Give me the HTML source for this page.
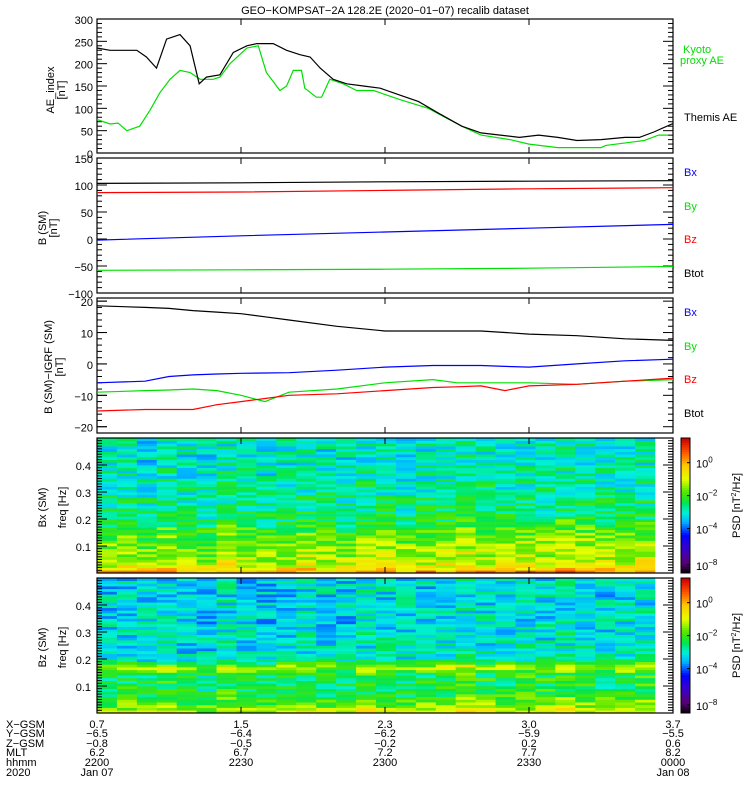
<!DOCTYPE html>
<html><head><meta charset="utf-8">
<style>
body{margin:0;background:#fff;}
svg{display:block;font-family:"Liberation Sans",sans-serif;}
text{font-size:11px;}
</style></head>
<body>
<svg id="c" width="750" height="800" viewBox="0 0 750 800"></svg>
<script>
// ---- data ----
const aeThemisT=[0,2.7,8.3,10.3,12.4,14.5,17.3,19.4,21.3,22.8,25.6,28.4,31.2,33.3,36.7,39.5,42.3,44.4,46.5,49.2,52,55.5,59,63,67,71,76,80,84,88,92,96,100,105,110,113,116,120];
const aeThemisV=[235,230,230,215,190,255,265,240,155,170,175,225,240,245,245,230,220,215,190,165,155,150,145,130,115,90,60,45,40,35,40,35,28,30,35,35,47,66];
const aeKyotoT=[0,2.7,4.4,6.2,8.9,11,13.1,15.2,17.3,19.4,21.5,24.2,25.6,27.7,31.2,33.6,35.3,36.7,38.1,39.5,40.9,42.6,43.3,45.7,46.8,48.5,51.3,54.1,57.6,63,69,76,80,86,90,96,105,106,114,117,119];
const aeKyotoV=[75,65,67,50,60,95,135,165,185,180,165,165,170,200,235,240,180,160,140,150,185,185,145,125,125,165,155,140,140,120,100,60,40,30,20,12,12,17,28,40,40];
const bT=[0,30,60,90,120];
const bxV=[-2,6,13,20,27];
const byV=[-58,-57,-56,-54,-51];
const bzV=[86,87,90,93,95];
const btV=[103,104,106,107,108];
const dT=[0,10,15,20,25,30,35,40,50,60,70,75,80,85,90,100,110,120];
const dBx=[-6,-5.5,-4,-3.5,-3.2,-3,-2.9,-2.8,-2,-1,-0.5,-0.5,-0.5,-0.8,-1,0,1,1.5];
const dBy=[-9,-8.5,-8.3,-8,-8.5,-10,-12,-9,-8,-6,-5,-6,-6,-6,-6,-6.5,-5.5,-5];
const dBz=[-15,-14.5,-14.5,-14.5,-13,-12,-11,-10,-9.5,-8.5,-7.5,-7.3,-7,-8.5,-7,-6.5,-5.5,-4.5];
const dBt=[18.5,18,17.7,17,16.5,16,15,14,12,10.5,10.5,10.5,10.5,10,9.5,9,8,7.5];
const bxProfile=[0.4,-0.2,-0.6,-0.8,-0.9,-1.0,-1.1,-1.1,-1.2,-1.2,-1.3,-1.3,-1.4,-1.5,-1.6,-1.7,-1.8,-1.9,-2.0,-2.1,-2.2,-2.2,-2.3,-2.3,-2.3,-2.4,-2.4,-2.4,-2.4,-2.5,-2.5,-2.5,-2.5,-2.5,-2.6,-2.6,-2.6,-2.6,-2.6,-2.6,-2.7,-2.7,-2.7,-2.7,-2.7,-2.7,-2.7,-2.7,-2.7,-2.7];
const bzProfile=[-0.9,-1.1,-1.4,-1.5,-1.6,-1.7,-2.0,-2.1,-2.1,-2.1,-2.1,-2.1,-2.1,-2.1,-2.0,-1.6,-1.1,-1.2,-2.0,-2.6,-2.7,-2.7,-2.8,-2.8,-2.8,-2.8,-2.8,-2.8,-2.8,-2.8,-2.9,-2.9,-2.9,-2.9,-2.9,-2.9,-2.9,-2.9,-2.9,-2.9,-2.9,-2.9,-2.9,-2.9,-2.9,-2.9,-2.9,-2.9,-2.9,-2.9];
const colOffset=[0,0.1,-0.1,0.2,0,-0.2,0.3,0.1,-0.1,0,0.2,0.1,-0.1,0.3,0.2,0,0.1,0.3,0.4,0.2,0.1,0.3,0.2,0.4,0.3,0.1,0.2,0.3];
const xTickLabels={X:["0.7","1.5","2.3","3.0","3.7"],Y:["-6.5","-6.4","-6.2","-5.9","-5.5"],Z:["-0.8","-0.5","-0.2","0.2","0.6"],MLT:["6.2","6.7","7.2","7.7","8.2"],hh:["2200","2230","2300","2330","0000"]};

// ---- helpers ----
const NS="http://www.w3.org/2000/svg";
const svg=document.getElementById('c');
function el(tag,attrs,parent){const e=document.createElementNS(NS,tag);for(const k in attrs)e.setAttribute(k,attrs[k]);(parent||svg).appendChild(e);return e;}
const X0=97,X1=673,TMAX=120;
const xs=t=>X0+(t/TMAX)*(X1-X0);
function ys(top,bot,vmin,vmax){return v=>bot-(v-vmin)/(vmax-vmin)*(bot-top);}
function line(ts,vs,y,color,name){
  const p=el('polyline',{points:ts.map((t,i)=>xs(t).toFixed(1)+','+y(vs[i]).toFixed(1)).join(' '),fill:'none',stroke:color,'stroke-width':1.2});
  
  
}
function txt(x,y,s,opts,parent){const t=el('text',Object.assign({x:x,y:y},opts||{}),parent);t.textContent=s;return t;}
function frame(top,bot,name){
  const r=el('rect',{x:X0,y:top,width:X1-X0,height:bot-top,fill:'none',stroke:'#000','stroke-width':1.2});
  
  
  [1,2,3].forEach(i=>{const x=xs(i*30);el('line',{x1:x,y1:top,x2:x,y2:top+6,stroke:'#000'});el('line',{x1:x,y1:bot,x2:x,y2:bot-6,stroke:'#000'});});
}
function yAxis(top,bot,vmin,vmax,major,minor,fmt){
  const y=ys(top,bot,vmin,vmax);
  for(let v=vmin;v<=vmax+1e-9;v+=minor){const yy=y(v);const isM=Math.abs(v/major-Math.round(v/major))<1e-6;const L=isM?10:5;
    el('line',{x1:X0,y1:yy,x2:X0+L,y2:yy,stroke:'#000'});el('line',{x1:X1,y1:yy,x2:X1-L,y2:yy,stroke:'#000'});
    if(isM&&fmt){const t=txt(X0-4,yy+5,fmt(v),{'text-anchor':'end','font-size':'13'});}}
  return y;
}
function rotLabel(x,y,lines,name){const g=el('g',{transform:`translate(${x},${y}) rotate(-90)`});
  lines.forEach((s,i)=>{txt(0,i*11,s,{'text-anchor':'middle','font-size':'12'},g);});}
const fmtI=v=>String(Math.round(v)).replace('-','\u2212');

// title
const ti=txt(385,14,'GEO\u2212KOMPSAT\u22122A 128.2E (2020\u221201\u221207) recalib dataset',{'text-anchor':'middle','font-size':'13'});


// panel 1
const p1=[19,153];
const y1=yAxis(p1[0],p1[1],0,300,50,10,fmtI);
frame(p1[0],p1[1],'ae-panel');
line(aeKyotoT,aeKyotoV,y1,'#00e000','kyoto-ae-line');
line(aeThemisT,aeThemisV,y1,'#000','themis-ae-line');
rotLabel(54,90,['AE_index','[nT]'],'ae-y-axis-title');
let t;
t=txt(683,53,'Kyoto',{fill:'#00e000','font-size':'11'});
txt(680,64,'proxy AE',{fill:'#00e000','font-size':'11'});
t=txt(684,121,'Themis AE',{'font-size':'11'});

// panel 2
const p2=[158,293];
const y2=yAxis(p2[0],p2[1],-100,150,50,10,fmtI);
frame(p2[0],p2[1],'b-sm-panel');
line(bT,btV,y2,'#000','btot-line');
line(bT,bzV,y2,'#ff0000','bz-line');
line(bT,bxV,y2,'#0000ff','bx-line');
line(bT,byV,y2,'#00e000','by-line');
rotLabel(46,228,['B (SM)','[nT]'],'b-sm-y-axis-title');
[['Bx','#0000ff',176],['By','#00e000',210],['Bz','#ff0000',243],['Btot','#000',277]].forEach(a=>{const e=txt(684,a[2],a[0],{fill:a[1]});});

// panel 3
const p3=[298,433];
const y3=yAxis(p3[0],p3[1],-22,21,10,2,null);
[-20,-10,0,10,20].forEach(v=>{const e=txt(X0-4,y3(v)+5,fmtI(v),{'text-anchor':'end','font-size':'13'});el('line',{x1:X0,y1:y3(v),x2:X0+10,y2:y3(v),stroke:'#000'});});
frame(p3[0],p3[1],'b-igrf-panel');
line(dT,dBt,y3,'#000','dbtot-line');
line(dT,dBx,y3,'#0000ff','dbx-line');
line(dT,dBy,y3,'#00e000','dby-line');
line(dT,dBz,y3,'#ff0000','dbz-line');
rotLabel(52,367,['B (SM)\u2212IGRF (SM)','[nT]'],'b-igrf-y-axis-title');
[['Bx','#0000ff',316],['By','#00e000',350],['Bz','#ff0000',383],['Btot','#000',417]].forEach(a=>{const e=txt(684,a[2],a[0],{fill:a[1]});});

// colormap
const stops=[[0,[0,0,0]],[0.08,[90,0,120]],[0.2,[50,0,210]],[0.28,[0,0,255]],[0.38,[0,180,255]],[0.45,[0,240,220]],[0.52,[0,230,80]],[0.6,[80,230,0]],[0.7,[230,255,0]],[0.8,[255,200,0]],[0.9,[255,80,0]],[1,[200,0,0]]];
function cmap(f){f=Math.max(0,Math.min(1,f));for(let i=1;i<stops.length;i++){if(f<=stops[i][0]){const a=stops[i-1],b=stops[i];const u=(f-a[0])/(b[0]-a[0]);return 'rgb('+a[1].map((c,k)=>Math.round(c+(b[1][k]-c)*u)).join(',')+')';}}return 'rgb(200,0,0)';}
const LMIN=-6.7,LMAX=1.5;
function hashTex(r,c,s){let h=(r*374761393+c*668265263+s*2147483647)>>>0;h=((h^(h>>>13))*1274126177)>>>0;h=h^(h>>>16);return ((h%1000)/1000-0.5);}

function spectro(top,bot,profile,seed,name,label){
  const g=el('g',{});
  const nC=colOffset.length,nR=profile.length,cw=(655-X0)/nC,rh=(bot-top)/nR;
  for(let c=0;c<nC;c++)for(let r=0;r<nR;r++){
    const v=profile[r]+colOffset[c]*(r<20?1:0.5)+hashTex(r,c,seed)*0.7;
    const cell=el('rect',{x:(X0+c*cw).toFixed(2),y:(bot-(r+1)*rh).toFixed(2),width:(cw+0.3).toFixed(2),height:(rh+0.3).toFixed(2),fill:cmap((v-LMIN)/(LMAX-LMIN))},g);
    
    
  }
  const yf=ys(top,bot,0,0.5);
  for(let i=0;i<=50;i++){const v=i/100,yy=yf(v),isM=i%10==0;el('line',{x1:X0,y1:yy,x2:X0+(isM?10:5),y2:yy,stroke:'#000'});el('line',{x1:X1,y1:yy,x2:X1-(isM?10:5),y2:yy,stroke:'#000'});}
  [0.1,0.2,0.3,0.4].forEach(v=>{const e=txt(X0-6,yf(v)+5,String(v),{'text-anchor':'end','font-size':'12'});});
  frame(top,bot,name+'-frame');
  rotLabel(46,(top+bot)/2+2,[label],name+'-title');
  const f=el('g',{transform:`translate(66,${(top+bot)/2+2}) rotate(-90)`});
  
  
  txt(0,0,'freq [Hz]',{'text-anchor':'middle','font-size':'12'},f);
  // colorbar
  const cb=el('g',{});
  const cbx=681,cbw=9,n=60;
  for(let i=0;i<n;i++){el('rect',{x:cbx,y:bot-(i+1)*(bot-top)/n,width:cbw,height:(bot-top)/n+0.5,fill:cmap((i+0.5)/n)},cb);}
  el('rect',{x:cbx,y:top,width:cbw,height:bot-top,fill:'none',stroke:'#000'},cb);
  const yl=ys(top,bot,LMIN,LMAX);
  [[0,'0'],[-2,'\u22122'],[-4,'\u22124'],[-6.2,'\u22128']].forEach(a=>{const yy=yl(a[0]);el('line',{x1:cbx+cbw,y1:yy,x2:cbx+cbw-3,y2:yy,stroke:'#000'},cb);
    const tt=el('text',{x:696,y:yy+5,'font-size':'12'},cb);tt.textContent='10';const sp=el('tspan',{dy:-5,'font-size':'8'},tt);sp.textContent=a[1];});
  const pl=el('g',{transform:`translate(740,${(top+bot)/2}) rotate(-90)`},cb);
  const pt=el('text',{x:0,y:0,'text-anchor':'middle','font-size':'11'},pl);pt.textContent='PSD [nT';const s2=el('tspan',{dy:-4,'font-size':'7'},pt);s2.textContent='2';const s3=el('tspan',{dy:4},pt);s3.textContent='/Hz]';
}
spectro(438,573,bxProfile,1,'bx-spectrogram','Bx (SM)');
spectro(578,713,bzProfile,2,'bz-spectrogram','Bz (SM)');

// bottom labels
const rowsY=[728,737,747,756,766,776];
const rowNames=['X\u2212GSM','Y\u2212GSM','Z\u2212GSM','MLT','hhmm','2020'];
rowNames.forEach((s,i)=>{const e=txt(6,rowsY[i],s,{'font-size':'11'});});
const keys=['X','Y','Z','MLT','hh'];
keys.forEach((k,i)=>{xTickLabels[k].forEach((s,j)=>{const e=txt(xs(j*30),rowsY[i],s.replace('-','\u2212'),{'text-anchor':'middle','font-size':'11'});});});
t=txt(xs(0),rowsY[5],'Jan 07',{'text-anchor':'middle','font-size':'11'});
t=txt(xs(120),rowsY[5],'Jan 08',{'text-anchor':'middle','font-size':'11'});
</script>
</body></html>
